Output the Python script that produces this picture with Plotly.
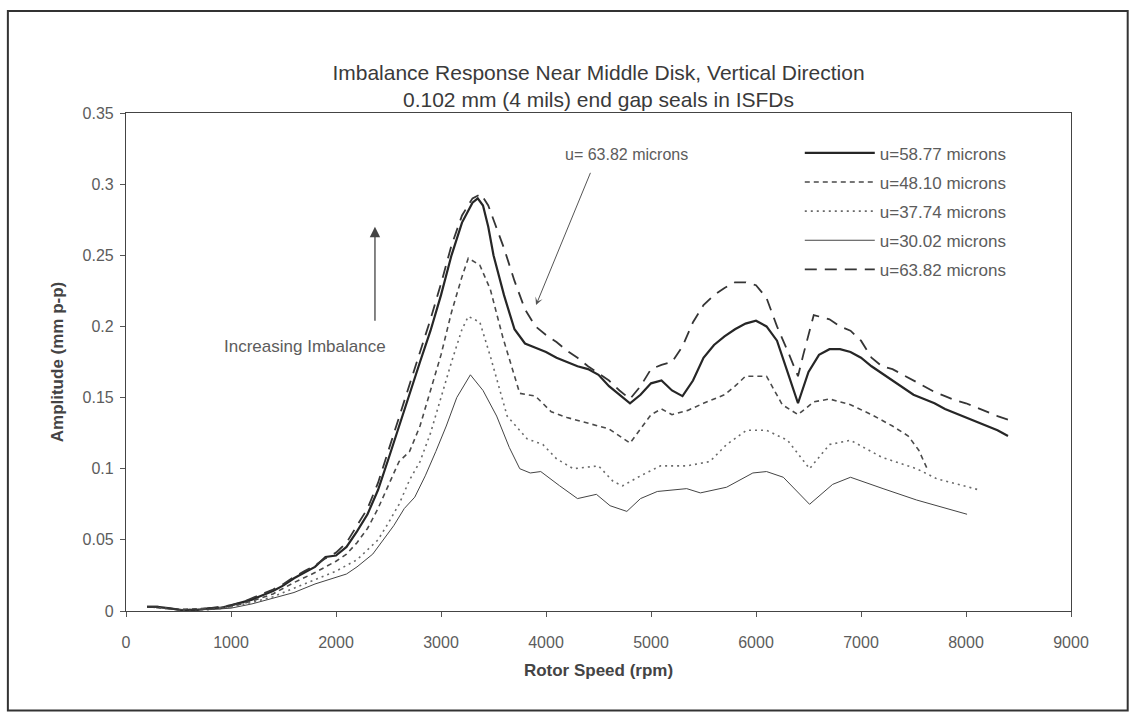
import plotly.graph_objects as go

# Rotor speed (rpm) and amplitude (mm p-p) for each imbalance level
rpm_5877 = [200, 300, 400, 500, 600, 700, 800, 900, 1000, 1100, 1200, 1300, 1400, 1500, 1600, 1700, 1800,
            1900, 2000, 2100, 2200, 2300, 2400, 2500, 2600, 2700, 2800, 2900, 3000, 3100, 3200, 3300, 3350,
            3400, 3450, 3500, 3600, 3700, 3800, 3900, 4000, 4100, 4200, 4300, 4400, 4500, 4600, 4700, 4800,
            4900, 5000, 5100, 5200, 5300, 5400, 5500, 5600, 5700, 5800, 5900, 6000, 6100, 6200, 6300, 6400,
            6500, 6600, 6700, 6800, 6900, 7000, 7100, 7200, 7300, 7400, 7500, 7600, 7700, 7800, 7900, 8000,
            8100, 8200, 8300, 8400]
amp_5877 = [0.003, 0.003, 0.002, 0.001, 0.000, 0.001, 0.002, 0.002, 0.004, 0.006, 0.008, 0.011, 0.014, 0.018,
            0.023, 0.027, 0.031, 0.038, 0.039, 0.045, 0.056, 0.068, 0.085, 0.107, 0.130, 0.153, 0.175, 0.197,
            0.222, 0.250, 0.273, 0.287, 0.290, 0.285, 0.270, 0.250, 0.222, 0.198, 0.188, 0.185, 0.182, 0.178,
            0.175, 0.172, 0.170, 0.166, 0.158, 0.152, 0.146, 0.152, 0.160, 0.162, 0.155, 0.151, 0.162, 0.178,
            0.187, 0.193, 0.198, 0.202, 0.204, 0.200, 0.190, 0.168, 0.146, 0.168, 0.180, 0.184, 0.184, 0.182,
            0.178, 0.172, 0.167, 0.162, 0.157, 0.152, 0.149, 0.146, 0.142, 0.139, 0.136, 0.133, 0.130, 0.127,
            0.123]

rpm_4810 = [200, 500, 800, 1000, 1200, 1400, 1600, 1800, 2000, 2100, 2200, 2300, 2400, 2500, 2600, 2700,
            2800, 2900, 3000, 3100, 3200, 3260, 3370, 3470, 3590, 3750, 3900, 4050, 4200, 4350, 4600, 4800,
            4900, 5000, 5100, 5200, 5350, 5500, 5700, 5800, 5900, 6100, 6250, 6400, 6550, 6700, 6900, 7100,
            7300, 7450, 7550, 7630]
amp_4810 = [0.003, 0.001, 0.002, 0.003, 0.007, 0.012, 0.020, 0.027, 0.035, 0.040, 0.048, 0.058, 0.072, 0.088,
            0.105, 0.112, 0.130, 0.155, 0.180, 0.210, 0.235, 0.248, 0.243, 0.226, 0.192, 0.153, 0.151, 0.140,
            0.136, 0.133, 0.128, 0.118, 0.128, 0.138, 0.142, 0.138, 0.141, 0.146, 0.152, 0.158, 0.165, 0.165,
            0.145, 0.138, 0.147, 0.149, 0.145, 0.138, 0.130, 0.123, 0.113, 0.100]

rpm_3774 = [200, 500, 800, 1000, 1200, 1400, 1600, 1800, 2000, 2200, 2400, 2500, 2600, 2700, 2800, 2900,
            3000, 3100, 3200, 3260, 3370, 3470, 3630, 3820, 3970, 4100, 4260, 4500, 4640, 4730, 4900, 5090,
            5340, 5560, 5720, 5910, 6100, 6300, 6510, 6700, 6900, 7200, 7530, 7720, 8130]
amp_3774 = [0.003, 0.001, 0.001, 0.003, 0.006, 0.010, 0.016, 0.022, 0.028, 0.036, 0.050, 0.062, 0.075, 0.092,
            0.105, 0.125, 0.150, 0.175, 0.198, 0.207, 0.203, 0.179, 0.137, 0.121, 0.117, 0.107, 0.100, 0.102,
            0.091, 0.088, 0.095, 0.102, 0.102, 0.105, 0.117, 0.127, 0.127, 0.120, 0.100, 0.117, 0.120, 0.108,
            0.100, 0.093, 0.085]

rpm_3002 = [200, 500, 800, 1000, 1200, 1400, 1600, 1800, 2000, 2100, 2200, 2350, 2550, 2650, 2750, 2850,
            2950, 3050, 3150, 3280, 3400, 3530, 3650, 3750, 3850, 3950, 4130, 4300, 4480, 4610, 4770, 4900,
            5060, 5340, 5470, 5720, 5970, 6100, 6260, 6510, 6730, 6900, 7210, 7530, 8010]
amp_3002 = [0.003, 0.001, 0.001, 0.002, 0.005, 0.009, 0.013, 0.019, 0.024, 0.026, 0.031, 0.040, 0.060, 0.072,
            0.080, 0.095, 0.112, 0.130, 0.150, 0.166, 0.155, 0.137, 0.115, 0.100, 0.097, 0.098, 0.088, 0.079,
            0.082, 0.074, 0.070, 0.079, 0.084, 0.086, 0.083, 0.087, 0.097, 0.098, 0.094, 0.075, 0.089, 0.094,
            0.086, 0.078, 0.068]

rpm_6382 = [200, 300, 400, 500, 600, 700, 800, 900, 1000, 1100, 1200, 1300, 1400, 1500, 1600, 1700, 1800,
            1900, 2000, 2100, 2200, 2300, 2400, 2500, 2600, 2700, 2800, 2900, 3000, 3100, 3200, 3300, 3380,
            3450, 3500, 3600, 3700, 3800, 3900, 4000, 4100, 4200, 4300, 4400, 4500, 4600, 4700, 4800, 4900,
            5000, 5100, 5200, 5300, 5400, 5500, 5600, 5700, 5800, 5900, 6000, 6100, 6200, 6300, 6400, 6450,
            6550, 6700, 6800, 6900, 7000, 7100, 7200, 7300, 7400, 7500, 7600, 7700, 7800, 7900, 8000, 8100,
            8200, 8300, 8420]
amp_6382 = [0.003, 0.003, 0.002, 0.001, 0.001, 0.001, 0.002, 0.003, 0.004, 0.006, 0.009, 0.012, 0.015, 0.019,
            0.024, 0.028, 0.032, 0.037, 0.041, 0.048, 0.060, 0.072, 0.090, 0.113, 0.137, 0.160, 0.182, 0.205,
            0.230, 0.257, 0.278, 0.290, 0.293, 0.285, 0.275, 0.255, 0.232, 0.212, 0.200, 0.194, 0.189, 0.183,
            0.178, 0.172, 0.167, 0.162, 0.155, 0.149, 0.158, 0.170, 0.173, 0.175, 0.186, 0.203, 0.215, 0.222,
            0.227, 0.231, 0.231, 0.229, 0.220, 0.200, 0.183, 0.165, 0.180, 0.208, 0.205, 0.200, 0.197, 0.190,
            0.178, 0.172, 0.170, 0.166, 0.162, 0.158, 0.154, 0.151, 0.148, 0.146, 0.143, 0.140, 0.137, 0.134]

series_names = ["u=58.77 microns", "u=48.10 microns", "u=37.74 microns", "u=30.02 microns", "u=63.82 microns"]

x_ticks = [0, 1000, 2000, 3000, 4000, 5000, 6000, 7000, 8000, 9000]
y_ticks = [0, 0.05, 0.1, 0.15, 0.2, 0.25, 0.3, 0.35]
y_tick_text = ["0", "0.05", "0.1", "0.15", "0.2", "0.25", "0.3", "0.35"]

FONT = "Liberation Sans, Arial, sans-serif"
TEXT_GRAY = "#5c5c5c"

styles = [
    dict(color="#262626", width=2.2, dash="solid"),
    dict(color="#4a4a4a", width=1.6, dash="5px,4px"),
    dict(color="#6a6a6a", width=1.6, dash="2px,4px"),
    dict(color="#444444", width=1.0, dash="solid"),
    dict(color="#353535", width=1.8, dash="12px,8px"),
]
data = [(rpm_5877, amp_5877), (rpm_4810, amp_4810), (rpm_3774, amp_3774),
        (rpm_3002, amp_3002), (rpm_6382, amp_6382)]

fig = go.Figure()
for i, ((xs, ys), name, st) in enumerate(zip(data, series_names, styles)):
    fig.add_trace(go.Scatter(x=xs, y=ys, mode="lines", name=name, line=st,
                             legendgroup=f"g{i}"))

fig.update_layout(
    width=1141, height=719,
    margin=dict(l=126, r=70, t=113, b=108),
    paper_bgcolor="white", plot_bgcolor="white",
    font=dict(family=FONT, color=TEXT_GRAY, size=16),
    title=dict(
        text="Imbalance Response Near Middle Disk, Vertical Direction<br>0.102 mm (4 mils) end gap seals in ISFDs",
        x=0.5, xref="paper", y=0.889, yref="container", xanchor="center", yanchor="middle",
        font=dict(family=FONT, size=21, color="#3a3a3a"),
    ),
    showlegend=True,
    legend=dict(
        x=0.713, y=0.955, xanchor="left", yanchor="top",
        bgcolor="rgba(0,0,0,0)", itemwidth=70, tracegroupgap=4,
        font=dict(family=FONT, size=17, color=TEXT_GRAY),
        traceorder="grouped",
    ),
    xaxis=dict(
        range=[0, 9000], tickvals=x_ticks, ticks="outside", ticklen=5, tickcolor="#555",
        showline=True, linecolor="#444", linewidth=1.2, mirror=True, showgrid=False, zeroline=False,
        tickfont=dict(size=16, color=TEXT_GRAY), ticklabelstandoff=12,
        title=dict(text="<b>Rotor Speed (rpm)</b>", font=dict(size=17, color="#444"), standoff=13),
    ),
    yaxis=dict(
        range=[0, 0.35], tickvals=y_ticks, ticktext=y_tick_text, ticks="outside", ticklen=5,
        tickcolor="#555", showline=True, linecolor="#444", linewidth=1.2, mirror=True,
        showgrid=False, zeroline=False, tickfont=dict(size=16, color=TEXT_GRAY), ticklabelstandoff=3,
        title=dict(text="<b>Amplitude (mm p-p)</b>", font=dict(size=17, color="#444"), standoff=14),
    ),
)

# Outer frame around the whole chart
fig.add_shape(type="rect", xref="paper", yref="paper", x0=-0.125, x1=1.06, y0=-0.2, y1=1.205,
              line=dict(color="#333", width=2), layer="below")

# Callout for the 63.82 micron curve
fig.add_annotation(x=3905, y=0.215, ax=4429, ay=0.309, axref="x", ayref="y", xref="x", yref="y",
                   text="", showarrow=True, arrowhead=3, arrowsize=1.3, arrowwidth=1, arrowcolor="#555")
fig.add_annotation(x=4771, y=0.321, xref="x", yref="y", text="u= 63.82 microns", showarrow=False,
                   font=dict(size=16, color=TEXT_GRAY))

# Increasing imbalance indicator
fig.add_annotation(x=2371, y=0.27, ax=2371, ay=0.203, axref="x", ayref="y", xref="x", yref="y",
                   text="", showarrow=True, arrowhead=2, arrowsize=1.6, arrowwidth=1.3, arrowcolor="#444")
fig.add_annotation(x=1700, y=0.186, xref="x", yref="y", text="Increasing Imbalance", showarrow=False,
                   font=dict(size=17, color=TEXT_GRAY))

fig.write_html("out.html")
